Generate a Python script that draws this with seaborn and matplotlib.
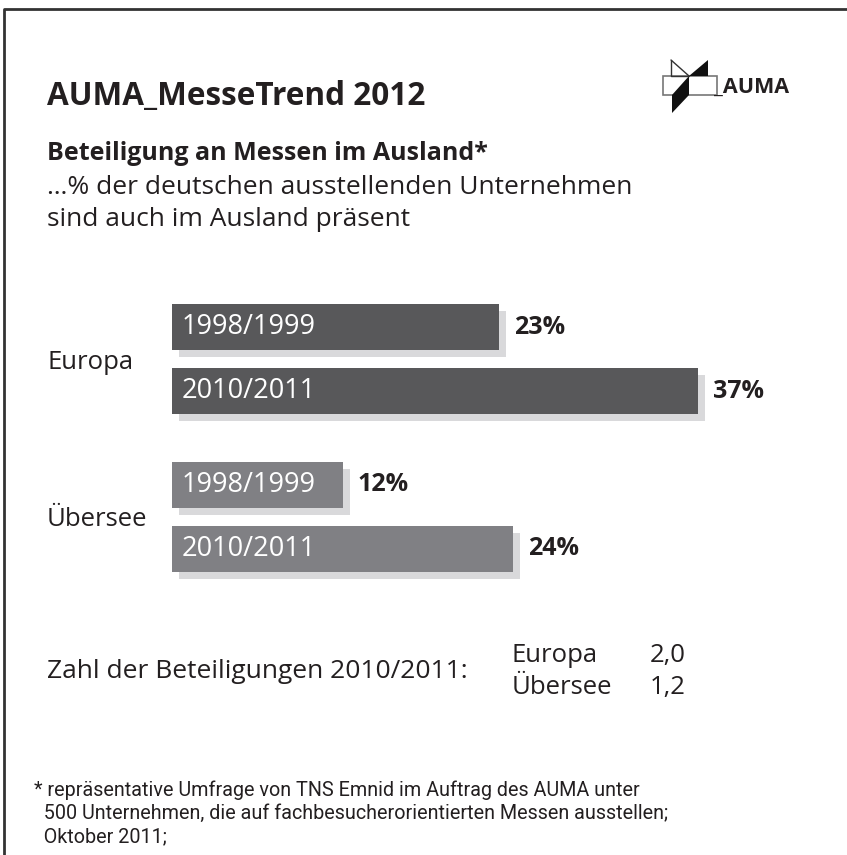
import matplotlib
matplotlib.use("Agg")
import matplotlib.pyplot as plt
from matplotlib.patches import Rectangle, Polygon
from matplotlib.lines import Line2D
from matplotlib.transforms import Affine2D, ScaledTranslation
import seaborn as sns
import pandas as pd

# data
regions = ["Europa", "Übersee"]
periods = ["1998/1999", "2010/2011"]
europa_pct = [23, 37]
uebersee_pct = [12, 24]
count_labels = ["Europa", "Übersee"]
count_values = ["2,0", "1,2"]

df = pd.DataFrame({
    "region": [regions[0]] * 2 + [regions[1]] * 2,
    "period": periods * 2,
    "pct": europa_pct + uebersee_pct,
})

sns.set_theme(style="white")
plt.rcParams["font.family"] = ["Open Sans", "DejaVu Sans"]

W, H = 847, 855
fig = plt.figure(figsize=(W / 100, H / 100), dpi=100)
fig.patch.set_facecolor("white")

# pixel coordinates measured from the top left corner
pix = Affine2D().scale(1 / W, -1 / H).translate(0, 1) + fig.transFigure

txt = "#231f20"
dark = "#58585a"
light = "#808084"
shadow = "#d9d9db"
body = 18.5

# frame
fig.add_artist(Line2D([4, 4, W], [H, 9, 9], transform=pix, color="#333333", lw=2))

# header
fig.text(47, 96, "AUMA_MesseTrend 2012", transform=pix, fontsize=22.7, fontweight="bold",
         color=txt, va="center", ha="left")
fig.text(47, 153, "Beteiligung an Messen im Ausland*", transform=pix, fontsize=18,
         fontweight="bold", color=txt, va="center")
fig.text(47, 187, "…% der deutschen ausstellenden Unternehmen", transform=pix,
         fontsize=19, color=txt, va="center")
fig.text(47, 219, "sind auch im Ausland präsent", transform=pix, fontsize=19,
         color=txt, va="center")

# logo
fig.add_artist(Rectangle((663, 76), 54, 19, transform=pix, fill=False,
                         edgecolor="#777777", lw=1.2))
fig.add_artist(Line2D([671, 671, 689], [60, 76, 76], transform=pix, color="#333333", lw=1))
fig.add_artist(Line2D([671, 689], [60, 76], transform=pix, color="#333333", lw=1))
fig.add_artist(Polygon([(689, 76), (708, 60), (708, 76)], closed=True, transform=pix,
                       facecolor="#111111", edgecolor="none"))
fig.add_artist(Polygon([(689, 76), (689, 95), (672, 113), (672, 95)], closed=True,
                       transform=pix, facecolor="#111111", edgecolor="none"))
fig.text(714, 87, "_AUMA", transform=pix, fontsize=15.5, fontweight="bold", color=txt,
         va="center", ha="left")

# bars
ax = fig.add_axes([172 / W, 1 - 595.5 / H, (698 - 172) / W, 315 / H])
sns.barplot(data=df, x="pct", y="region", hue="period", order=regions,
            hue_order=periods, dodge=True, width=0.815, gap=0.28,
            palette=[dark, dark], legend=False, ax=ax, zorder=3)
ax.set_xlim(0, max(europa_pct + uebersee_pct))
ax.set_ylim(1.5, -0.5)
ax.set_xlabel("")
ax.set_ylabel("")
ax.set_xticks([])
for s in ax.spines.values():
    s.set_visible(False)
ax.set_facecolor("none")
ax.tick_params(axis="y", length=0, pad=90, labelsize=body, labelcolor=txt)
for lab in ax.get_yticklabels():
    lab.set_horizontalalignment("left")

shift = ax.transData + ScaledTranslation(7 / 100, -7 / 100, fig.dpi_scale_trans)
inner = ax.transData + ScaledTranslation(10 / 100, 0, fig.dpi_scale_trans)
outer = ax.transData + ScaledTranslation(15 / 100, 0, fig.dpi_scale_trans)

bars = [p for p in ax.patches if isinstance(p, Rectangle) and p.get_width() > 0]
for p in bars:
    yc = p.get_y() + p.get_height() / 2
    region_idx = int(round(yc))
    p.set_facecolor(dark if region_idx == 0 else light)
    p.set_edgecolor("none")
    ax.add_patch(Rectangle((p.get_x(), p.get_y()), p.get_width(), p.get_height(),
                           transform=shift, facecolor=shadow, edgecolor="none",
                           zorder=1, clip_on=False))
    period_idx = 0 if yc < region_idx else 1
    ax.text(0, yc, periods[period_idx], transform=inner, color="white", fontsize=19.5,
            va="center", ha="left", zorder=4)
    ax.text(p.get_width(), yc, f"{p.get_width():.0f}%", transform=outer, color=txt,
            fontsize=18, fontweight="bold", va="center", ha="left", zorder=4,
            clip_on=False)

# counts
fig.text(47, 671, "Zahl der Beteiligungen 2010/2011:", transform=pix, fontsize=19,
         color=txt, va="center")
for i, (lab, val) in enumerate(zip(count_labels, count_values)):
    y = 655 + 32 * i
    fig.text(512, y, lab, transform=pix, fontsize=body, color=txt, va="center")
    fig.text(686, y, val, transform=pix, fontsize=body, color=txt, va="center", ha="right")

# footnote
foot = ["* repräsentative Umfrage von TNS Emnid im Auftrag des AUMA unter",
        "  500 Unternehmen, die auf fachbesucherorientierten Messen ausstellen;",
        "  Oktober 2011;"]
for i, line in enumerate(foot):
    fig.text(34, 790 + 23.5 * i, line, transform=pix, fontsize=14.2, color=txt,
             va="center", family=["Liberation Sans Narrow", "Roboto", "DejaVu Sans"])

fig.savefig("out.png", dpi=100)
